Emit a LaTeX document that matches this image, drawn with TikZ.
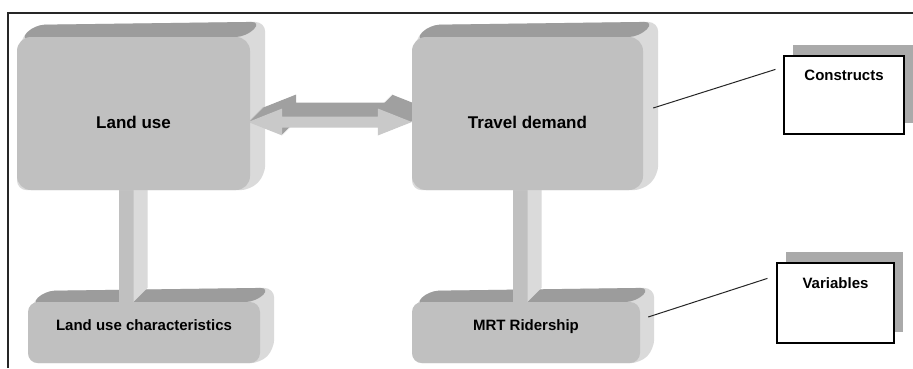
\documentclass[tikz,border=0pt]{standalone}
\usepackage{fontspec}
\setmainfont{Liberation Sans}
\usepackage{xcolor}
\definecolor{frontgray}{RGB}{192,192,192}
\definecolor{topgray}{RGB}{156,156,156}
\definecolor{sidegray}{RGB}{218,218,218}
\definecolor{arrowgray}{RGB}{160,160,160}
\definecolor{shadegray}{RGB}{170,170,170}
\usepackage{tikz}
\usetikzlibrary{calc}
\usetikzlibrary{backgrounds,shadows}
\newcommand{\Extrude}[2][15]{
\path[fill=sidegray,rounded corners=10pt] ($(#2.north west)+(3,-3)$) -- ++(#1,#1) -- ($(#2.north east)+(#1,#1)$) -- ($(#2.south east)+(#1,#1)$) -- (#2.south east) -- (#2.south west) --cycle;
\path[fill=topgray,rounded corners=10pt] ($(#2.north west)+(3,-3)$) -- ++(#1,#1) -- ($(#2.north east)+(#1-4,#1)$) -- ($(#2.north east)+(-4,0)$) --cycle;}
\newcommand{\DoubleArrow}[4]{
\path[fill=#1] ($(#2)+(#4,#4)$) -- ($(#2)+(34+#4,13.5+#4)$) -- ($(#2)+(34+#4,5.5+#4)$) -- ($(#3)+(-34+#4,5.5+#4)$) -- ($(#3)+(-34+#4,13.5+#4)$) -- ($(#3)+(#4,#4)$) -- ($(#3)+(-34+#4,-13.5+#4)$) -- ($(#3)+(-34+#4,-5.5+#4)$) -- ($(#2)+(34+#4,-5.5+#4)$) -- ($(#2)+(34+#4,-13.5+#4)$) --cycle;}

\begin{document}
\begin{tikzpicture}[x=1pt,y=1pt,font=\bfseries\fontsize{15}{18}\selectfont]
	\tikzstyle{face}=[rectangle,rounded corners=14pt,fill=frontgray,inner sep=0pt,font=\bfseries\fontsize{17}{20}\selectfont,text height=32pt,text depth=3pt];
	\tikzstyle{flat}=[face,rounded corners=10pt,minimum height=61pt,font=\bfseries\fontsize{15}{18}\selectfont,text height=11pt,text depth=16pt];
	\tikzstyle{note}=[rectangle,draw=black,line width=1.2pt,fill=white,drop shadow={shadow xshift=9pt,shadow yshift=11pt,fill=shadegray,opacity=1}];
	\tikzstyle{lead}=[line width=1pt,black!85];
	%%
	\useasboundingbox (0,0) rectangle (913,368);
	\draw[line width=2pt,black!85] (8,0) -- (8,355) -- (913,355);
	%%
	\node[face,minimum width=233pt,minimum height=153pt] (land)   at (133.5,254.5) {Land use};
	\node[face,minimum width=231pt,minimum height=153pt] (travel) at (527.5,254.5) {Travel demand};
	\node[flat,minimum width=232pt] (landc) at (144,35.5) {Land use characteristics};
	\node[flat,minimum width=228pt] (mrt)   at (526,35.5) {MRT Ridership};
	%%
	\coordinate (al) at ($(land.east)+(-2,-8.5)$);
	\coordinate (ar) at ($(travel.west)+(0,-8.5)$);
	%%
	\begin{scope}[on background layer]
		\fill[white] (0,0) rectangle (913,368);
		\Extrude[14]{landc}
		\Extrude[14]{mrt}
		%%
		\path[fill=frontgray] ($(land.south)+(-15,0)$) rectangle (land.south |- landc.north);
		\path[fill=sidegray] (land.south) -- ++(14,0) -- ($(land.south |- landc.north)+(14,14)$) -- (land.south |- landc.north) --cycle;
		\path[fill=frontgray] ($(travel.south)+(-15,0)$) rectangle (travel.south |- mrt.north);
		\path[fill=sidegray] (travel.south) -- ++(14,0) -- ($(travel.south |- mrt.north)+(14,14)$) -- (travel.south |- mrt.north) --cycle;
		%%
		\Extrude{land}
		\Extrude{travel}
		%%
		\foreach \k in {14,13,...,1}
			{\DoubleArrow{arrowgray}{al}{ar}{\k}}
		\DoubleArrow{frontgray!85!white}{al}{ar}{0}
	\end{scope}
	%%
	\node[note,minimum width=120pt,minimum height=78pt] (cons) at (844,273) {};
	\node[note,minimum width=117pt,minimum height=80pt] (vars) at (835.5,65) {};
	\node (constxt) at ($(cons.north)+(0,-20)$) {Constructs};
	\node (varstxt) at ($(vars.north)+(0,-21)$) {Variables};
	%%
	\draw[lead] ($(travel.east)+(10,5.5)$) -- ($(cons.north west)+(-8,-14)$);
	\draw[lead] ($(mrt.east)+(8,15.5)$) -- ($(vars.north west)+(-9,-16)$);
\end{tikzpicture}
\end{document}
